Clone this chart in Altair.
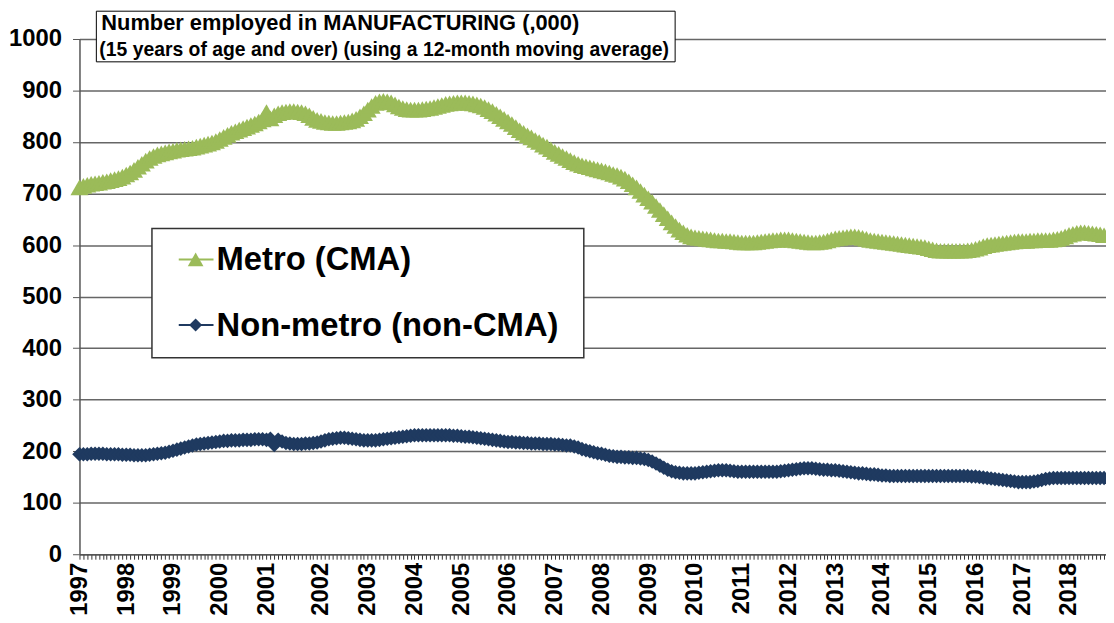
import altair as alt
import pandas as pd

# ---------------- data ----------------
year_labels = [str(y) for y in range(1997, 2019)]
# position (month index) of the first month of each labelled year
year_start_index = [0, 12, 24, 36, 48, 62, 74, 86, 98, 110, 122, 134, 146,
                    158, 170, 182, 194, 206, 218, 230, 242, 254]

metro = [
    712, 715, 717, 719, 720, 721, 723, 724, 726, 728, 730, 733,            # 1997
    737, 741, 746, 752, 758, 764, 769, 773, 776, 778, 780, 782,            # 1998
    783, 785, 786, 787, 788, 789, 791, 793, 795, 797, 799, 802,            # 1999
    806, 810, 814, 818, 821, 824, 827, 830, 833, 836, 840, 844,            # 2000
    858, 846, 852, 856, 858, 859, 860, 860, 859, 858, 856, 852, 847, 843,  # 2001
    841, 839, 838, 837, 837, 838, 839, 840, 842, 845, 850, 856,            # 2002
    863, 870, 876, 879, 880, 879, 877, 873, 869, 866, 864, 863,            # 2003
    863, 863, 864, 865, 866, 868, 870, 872, 874, 875, 876, 877,            # 2004
    877, 877, 876, 875, 873, 871, 868, 864, 860, 855, 850, 845,            # 2005
    840, 835, 829, 823, 818, 813, 809, 804, 800, 795, 791, 786,            # 2006
    781, 777, 773, 769, 765, 761, 758, 755, 753, 751, 749, 747,            # 2007
    745, 743, 741, 738, 736, 733, 729, 724, 718, 712, 705, 698,            # 2008
    691, 684, 676, 668, 660, 652, 644, 637, 630, 625, 620, 617,            # 2009
    615, 614, 613, 612, 611, 610, 609, 609, 608, 608, 607, 606,            # 2010
    605, 605, 605, 605, 606, 607, 608, 609, 610, 610, 611, 611,            # 2011
    611, 610, 609, 608, 607, 606, 605, 605, 606, 607, 609, 611,            # 2012
    613, 614, 615, 616, 617, 617, 616, 614, 612, 610, 609, 608,            # 2013
    607, 606, 605, 604, 603, 602, 601, 600, 599, 598, 597, 596,            # 2014
    594, 592, 590, 589, 589, 589, 589, 589, 589, 589, 590, 591,            # 2015
    593, 595, 598, 600, 601, 602, 603, 604, 605, 606, 607, 608,            # 2016
    608, 608, 609, 609, 610, 610, 610, 610, 611, 612, 614, 617,            # 2017
    620, 622, 624, 625, 625, 624, 623, 622, 621, 619,                      # 2018
]

non_metro = [
    194, 194, 194, 195, 195, 195, 195, 194, 194, 194, 194, 193,            # 1997
    193, 193, 192, 192, 192, 192, 193, 194, 195, 196, 197, 199,            # 1998
    201, 203, 205, 207, 209, 211, 213, 214, 215, 216, 217, 218,            # 1999
    219, 220, 220, 221, 221, 221, 222, 222, 222, 223, 223, 223,            # 2000
    222, 224, 212, 222, 219, 216, 215, 214, 214, 214, 215, 215, 216, 217,  # 2001
    219, 221, 223, 224, 225, 226, 226, 225, 224, 223, 222, 221,            # 2002
    221, 221, 221, 222, 223, 224, 225, 226, 227, 228, 229, 230,            # 2003
    231, 231, 231, 231, 231, 231, 231, 231, 231, 231, 230, 230,            # 2004
    229, 228, 228, 227, 226, 225, 224, 223, 222, 221, 220, 219,            # 2005
    218, 218, 217, 217, 216, 216, 215, 215, 215, 214, 214, 214,            # 2006
    213, 213, 212, 211, 211, 209, 207, 204, 202, 200, 198, 196,            # 2007
    195, 193, 191, 190, 189, 189, 188, 188, 187, 187, 186, 185,            # 2008
    183, 180, 176, 172, 168, 164, 161, 159, 158, 157, 157, 157,            # 2009
    157, 158, 159, 160, 161, 162, 163, 163, 163, 162, 161, 160,            # 2010
    160, 160, 160, 160, 160, 160, 160, 160, 160, 160, 161, 162,            # 2011
    163, 164, 165, 166, 167, 167, 167, 166, 165, 164, 164, 163,            # 2012
    163, 162, 161, 160, 159, 158, 157, 157, 156, 155, 155, 154,            # 2013
    153, 153, 152, 152, 152, 152, 152, 152, 152, 152, 152, 152,            # 2014
    152, 152, 152, 152, 152, 152, 152, 152, 152, 152, 152, 151,            # 2015
    151, 150, 149, 148, 147, 146, 145, 144, 143, 142, 141, 140,            # 2016
    140, 140, 140, 141, 142, 144, 146, 147, 148, 148, 148, 148,            # 2017
    148, 148, 148, 148, 148, 148, 148, 148, 148, 148,                      # 2018
]

series_names = ["Metro (CMA)", "Non-metro (non-CMA)"]
series_colors = ["#9BBB59", "#1F3A60"]
series_shapes = ["triangle-up", "diamond"]
series_sizes = [330, 215]
legend_sizes = [250, 170]

title_line1 = "Number employed in MANUFACTURING (,000)"
title_line2 = "(15 years of age and over) (using a 12-month moving average)"

y_ticks = list(range(0, 1001, 100))

# ---------------- build table ----------------
n_months = len(metro)
rows = []
for name, vals in zip(series_names, [metro, non_metro]):
    for i, v in enumerate(vals):
        rows.append({"idx": i, "value": v, "series": name})
df = pd.DataFrame(rows)

FONT = "Liberation Sans"
W, H = 1034, 519

starts_js = "[" + ",".join(str(s) for s in year_start_index) + "]"
labels_js = "[" + ",".join("'" + s + "'" for s in year_labels) + "]"
label_expr = (f"indexof({starts_js}, datum.value) >= 0 ? "
              f"{labels_js}[indexof({starts_js}, datum.value)] : ''")

x_enc = alt.X(
    "idx:Q",
    scale=alt.Scale(domain=[0, n_months - 0.5], nice=False, zero=False),
    axis=alt.Axis(
        values=list(range(n_months)), tickCount=n_months + 20, labelExpr=label_expr,
        labelAngle=-90, labelFont=FONT, labelFontSize=24, labelFontWeight="bold",
        labelColor="black", labelOverlap=False, labelFlush=False, labelBound=False,
        labelPadding=3, tickSize=5, tickColor="#333333", tickWidth=1,
        domainColor="#555555", domainWidth=1.5, grid=False, title=None,
    ),
)
y_enc = alt.Y(
    "value:Q",
    scale=alt.Scale(domain=[0, 1000], nice=False),
    axis=alt.Axis(
        values=y_ticks, format="d", labelFont=FONT, labelFontSize=24,
        labelFontWeight="bold", labelColor="black", tickSize=7, tickColor="#555555",
        labelPadding=11, grid=True, gridColor="#666666", gridWidth=1.5,
        domainColor="#555555", domainWidth=1.5, title=None, labelFlush=False,
    ),
)

layers = []
for name, col, shp, sz in zip(series_names, series_colors, series_shapes, series_sizes):
    base = alt.Chart(df).transform_filter(alt.datum.series == name)
    layers.append(base.mark_line(color=col, strokeWidth=2).encode(x=x_enc, y=y_enc))
    layers.append(base.mark_point(shape=shp, filled=True, size=sz, color=col,
                                  opacity=1).encode(x="idx:Q", y="value:Q"))

one = pd.DataFrame({"k": [0]})

# title box
layers.append(alt.Chart(one).mark_rect(fill="white", stroke="black", strokeWidth=1).encode(
    x=alt.value(17), x2=alt.value(600), y=alt.value(-28), y2=alt.value(23)))
layers.append(alt.Chart(pd.DataFrame({"t": [title_line1]})).mark_text(
    font=FONT, fontSize=22, fontWeight="bold", align="left", baseline="alphabetic",
    color="black").encode(x=alt.value(22), y=alt.value(-9), text="t:N"))
layers.append(alt.Chart(pd.DataFrame({"t": [title_line2]})).mark_text(
    font=FONT, fontSize=19.5, fontWeight="bold", align="left", baseline="alphabetic",
    color="black").encode(x=alt.value(20), y=alt.value(17), text="t:N"))

# legend box
layers.append(alt.Chart(one).mark_rect(fill="white", stroke="#333333", strokeWidth=1.5).encode(
    x=alt.value(73), x2=alt.value(508), y=alt.value(191), y2=alt.value(321)))
legend_row_y = [222, 288]
for name, col, shp, sz, ry in zip(series_names, series_colors, series_shapes, legend_sizes, legend_row_y):
    layers.append(alt.Chart(one).mark_rule(color=col, strokeWidth=2).encode(
        x=alt.value(100), x2=alt.value(135), y=alt.value(ry)))
    layers.append(alt.Chart(one).mark_point(shape=shp, filled=True, size=sz, color=col,
                                            opacity=1).encode(x=alt.value(117), y=alt.value(ry)))
    layers.append(alt.Chart(pd.DataFrame({"t": [name]})).mark_text(
        font=FONT, fontSize=33, fontWeight="bold", align="left", baseline="middle",
        color="black").encode(x=alt.value(138), y=alt.value(ry + 1), text="t:N"))

chart = alt.layer(*layers).properties(
    width=W, height=H,
    autosize=alt.AutoSizeParams(type="none"),
    padding={"left": 72, "top": 29, "right": 0, "bottom": 62},
    background="white",
).configure_view(stroke=None)

chart.save("out.html", embed_options={"renderer": "svg", "actions": False})
